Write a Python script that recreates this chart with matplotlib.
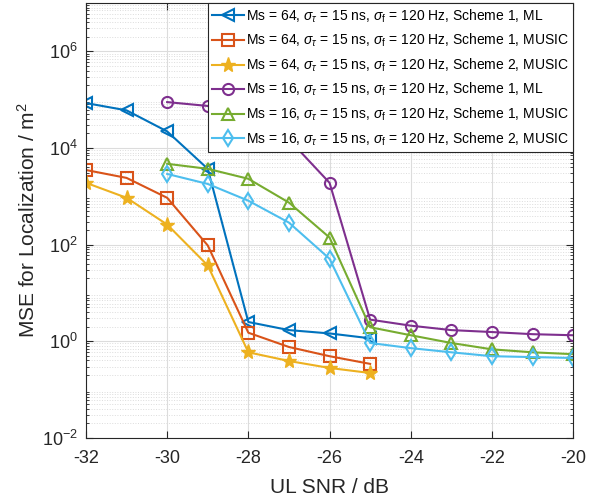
import numpy as np
import matplotlib.pyplot as plt
from matplotlib.ticker import LogLocator, NullFormatter

plt.rcParams['font.family'] = ['Liberation Sans', 'DejaVu Sans']
plt.rcParams['mathtext.fontset'] = 'custom'
plt.rcParams['mathtext.rm'] = 'Liberation Sans'
plt.rcParams['mathtext.it'] = 'Liberation Sans:italic'
plt.rcParams['axes.unicode_minus'] = False

# SNR points (dB)
snr_64 = [-32, -31, -30, -29, -28, -27, -26, -25]
snr_16 = [-30, -29, -28, -27, -26, -25, -24, -23, -22, -21, -20]

# MSE values
ms64_s1_ml = [8.5e4, 6e4, 2.2e4, 3.7e3, 2.5, 1.7, 1.45, 1.15]
ms64_s1_music = [3.5e3, 2.4e3, 930, 96, 1.5, 0.76, 0.49, 0.34]
ms64_s2_music = [1.9e3, 930, 260, 37, 0.59, 0.39, 0.28, 0.22]
ms16_s1_ml = [8.9e4, 7.4e4, 4e4, 1.5e4, 1.9e3, 2.8, 2.1, 1.7, 1.55, 1.4, 1.33]
ms16_s1_music = [4.7e3, 3.7e3, 2.3e3, 740, 140, 1.95, 1.33, 0.92, 0.68, 0.59, 0.54]
ms16_s2_music = [2.9e3, 1.8e3, 810, 285, 51, 0.92, 0.72, 0.59, 0.49, 0.47, 0.45]

lbl = r'Ms = {}, $\sigma_\tau$ = 15 ns, $\sigma_\mathrm{{f}}$ = 120 Hz, Scheme {}, {}'

fig = plt.figure(figsize=(5.97, 5.01), dpi=100)
ax = fig.add_axes([0.144, 0.126, 0.816, 0.868])

kw = dict(linewidth=1.5, markersize=8, markerfacecolor='none', markeredgewidth=1.5)
ax.plot(snr_64, ms64_s1_ml, '-<', color='#0072BD', label=lbl.format(64, 1, 'ML'), **kw)
ax.plot(snr_64, ms64_s1_music, '-s', color='#D95319', label=lbl.format(64, 1, 'MUSIC'), **kw)
ax.plot(snr_64, ms64_s2_music, '-*', color='#EDB120', label=lbl.format(64, 2, 'MUSIC'),
        linewidth=1.5, markersize=11, markeredgewidth=1.0)
ax.plot(snr_16, ms16_s1_ml, '-o', color='#7E2F8E', label=lbl.format(16, 1, 'ML'), **kw)
ax.plot(snr_16, ms16_s1_music, '-^', color='#77AC30', label=lbl.format(16, 1, 'MUSIC'), **kw)
ax.plot(snr_16, ms16_s2_music, '-d', color='#4DBEEE', label=lbl.format(16, 2, 'MUSIC'), **kw)

ax.set_yscale('log')
ax.set_xlim(-32, -20)
ax.set_ylim(1e-2, 1e7)
ax.set_xticks(np.arange(-32, -19, 2))
ax.set_yticks([1e-2, 1e0, 1e2, 1e4, 1e6])
ax.yaxis.set_minor_locator(LogLocator(base=10, subs=np.arange(2, 10), numticks=20))
ax.yaxis.set_minor_formatter(NullFormatter())

ax.grid(True, which='major', color='#dcdcdc', linewidth=0.8)
ax.grid(True, which='minor', axis='y', color='#dcdcdc', linestyle=':', linewidth=0.7)
ax.set_axisbelow(True)

for s in ax.spines.values():
    s.set_color('#262626')
ax.tick_params(which='both', direction='in', top=True, right=True, colors='#262626',
               labelsize=13)
ax.tick_params(which='major', length=5)
ax.tick_params(which='minor', length=2.5)
ax.tick_params(axis='x', pad=9)
ax.tick_params(axis='y', pad=6)

ax.set_xlabel('UL SNR / dB', fontsize=15, color='#262626', labelpad=8)
ax.set_ylabel(r'MSE for Localization / m$^2$', fontsize=15, color='#262626', labelpad=2)

leg = ax.legend(loc='upper right', fontsize=10, handlelength=2.3, borderaxespad=0.0,
                fancybox=False, framealpha=1, edgecolor='#262626', labelspacing=0.52,
                borderpad=0.3, handletextpad=0.15)
leg.get_frame().set_linewidth(0.8)

fig.savefig('out.png', dpi=100)
